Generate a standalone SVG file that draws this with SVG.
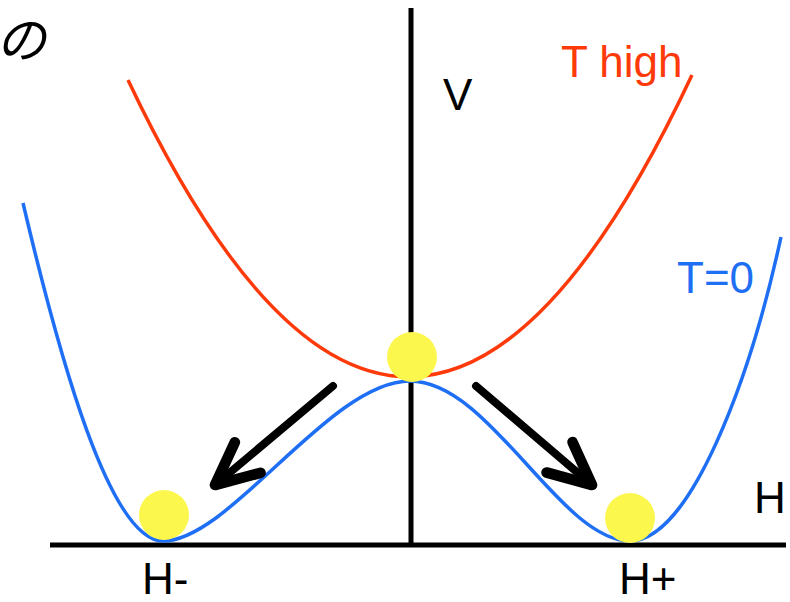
<svg xmlns="http://www.w3.org/2000/svg" width="790" height="602" viewBox="0 0 790 602">
<style>
.lbl{font-family:"Liberation Sans",Arial,sans-serif;font-size:44px;fill:#000}
.ball{fill:#fcf74c}
.axis{stroke:#000;stroke-width:5;fill:none}
.arrow{stroke:#000;stroke-width:8;fill:none;stroke-linecap:round;stroke-linejoin:round}
</style>
<defs>
<marker id="chev" markerUnits="userSpaceOnUse" markerWidth="60" markerHeight="60" refX="0" refY="0" orient="auto" overflow="visible" viewBox="-40 -20 45 40">
<path d="M-32,-15 L0,0 L-32,15" fill="none" stroke="#000" stroke-width="8" stroke-linecap="round" stroke-linejoin="round"/>
</marker>
</defs>
<rect width="790" height="602" fill="#fff"/>
<text x="-4" y="58" style="font-family:'Noto Sans CJK JP',sans-serif;font-size:50px;font-style:italic" fill="#000">の</text>
<g id="axes">
<line class="axis" x1="411" y1="8" x2="411" y2="545"/>
<line class="axis" x1="50" y1="545" x2="786" y2="545" stroke-width="6"/>
</g>
<g id="curve-high">
<path d="M128,80 Q410,676 692,75" fill="none" stroke="#ff3a0a" stroke-width="3.5"/>
</g>
<g id="curve-zero">
<path d="M23,203 C60,360 110,541 163,541 C230,541 330,381 410,381 C490,381 560,541 630,541 C690,541 750,380 781,237" fill="none" stroke="#1f6ff5" stroke-width="3.5"/>
</g>
<g id="balls">
<circle class="ball" cx="412" cy="357" r="25"/>
<circle class="ball" cx="164" cy="515" r="25"/>
<circle class="ball" cx="630" cy="518" r="25"/>
</g>
<g id="connectors">
<path class="arrow" d="M333,386 L215,485" marker-end="url(#chev)"/>
<path class="arrow" d="M476,386 L592,485" marker-end="url(#chev)"/>
</g>
<g id="labels">
<text class="lbl" x="443" y="110">V</text>
<text class="lbl" x="561" y="77" style="fill:#ff3a0a">T high</text>
<text class="lbl" x="677" y="293" style="fill:#1f6ff5">T=0</text>
<text class="lbl" x="754" y="513">H</text>
<text class="lbl" x="142" y="594">H-</text>
<text class="lbl" x="619" y="594">H+</text>
</g>
</svg>
